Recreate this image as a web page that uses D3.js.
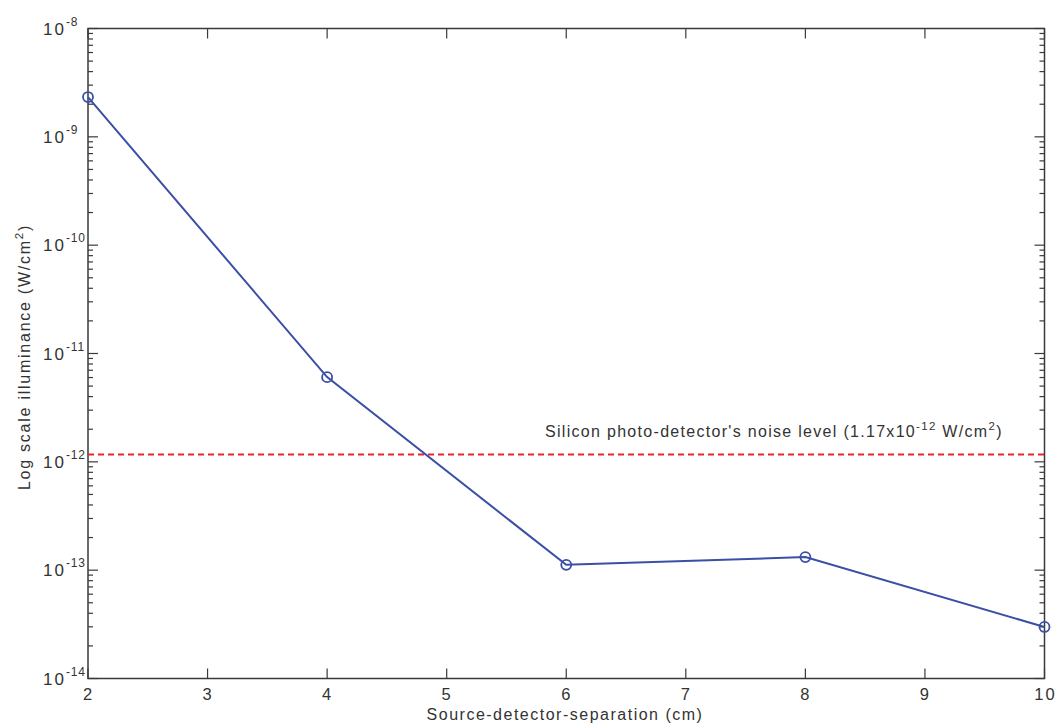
<!DOCTYPE html>
<html>
<head>
<meta charset="utf-8">
<script src="https://cdn.jsdelivr.net/npm/d3@7"></script>
<style>
  html, body { margin: 0; padding: 0; background: #fff; }
  svg { display: block; }
  text { font-family: "Liberation Sans", Arial, Helvetica, sans-serif; fill: #333; }
</style>
</head>
<body>
<script>
// ---- data ----
const separations = [2, 4, 6, 8, 10];                       // cm
const illuminance = [2.33e-9, 6.05e-12, 1.12e-13, 1.32e-13, 2.99e-14]; // W/cm^2
const noiseLevel = 1.17e-12;
const xTicks = [2, 3, 4, 5, 6, 7, 8, 9, 10];
const yDecades = [-14, -13, -12, -11, -10, -9, -8];
const xLabel = "Source-detector-separation (cm)";
const yLabel = "Log scale illuminance (W/cm";
const noiseLabelA = "Silicon photo-detector's noise level (1.17x10";
const noiseLabelB = " W/cm";

// ---- layout ----
const W = 1056, H = 726;
const L = 88, R = 1044.5, T = 28.5, B = 678.5;
const axisColor = "#3a3a3a";
const lineColor = "#3a4fa6";
const redColor = "#e8262a";

const svg = d3.select("body").append("svg").attr("width", W).attr("height", H);

const x = d3.scaleLinear().domain([2, 10]).range([L, R]);
const y = d3.scaleLog().domain([1e-14, 1e-8]).range([B, T]);

// minor tick values
const minors = [];
for (let d = -14; d < -8; d++) for (let m = 2; m <= 9; m++) minors.push(m * Math.pow(10, d));
const majors = yDecades.map(d => Math.pow(10, d));

// box
svg.append("rect").attr("x", L).attr("y", T).attr("width", R - L).attr("height", B - T)
  .attr("fill", "none").attr("stroke", axisColor).attr("stroke-width", 1.5);

const g = svg.append("g").attr("stroke", axisColor).attr("stroke-width", 1.2);
xTicks.forEach(v => {
  g.append("line").attr("x1", x(v)).attr("x2", x(v)).attr("y1", B).attr("y2", B - 10);
  g.append("line").attr("x1", x(v)).attr("x2", x(v)).attr("y1", T).attr("y2", T + 10);
});
majors.forEach(v => {
  g.append("line").attr("x1", L).attr("x2", L + 10).attr("y1", y(v)).attr("y2", y(v));
  g.append("line").attr("x1", R).attr("x2", R - 10).attr("y1", y(v)).attr("y2", y(v));
});
minors.forEach(v => {
  g.append("line").attr("x1", L).attr("x2", L + 5).attr("y1", y(v)).attr("y2", y(v));
  g.append("line").attr("x1", R).attr("x2", R - 5).attr("y1", y(v)).attr("y2", y(v));
});

// x tick labels
svg.append("g").selectAll("text").data(xTicks).join("text")
  .attr("x", d => x(d) + (d >= 10 ? 1 : 0.5)).attr("y", B + 21)
  .attr("text-anchor", "middle").attr("font-size", 16.5)
  .attr("letter-spacing", 2)
  .text(d => d);

// y tick labels
yDecades.forEach(d => {
  const t = svg.append("text").attr("y", y(Math.pow(10, d)) + 6)
    .attr("text-anchor", "start").attr("font-size", 17);
  const ten = t.append("tspan").attr("letter-spacing", 2).text("10");
  t.append("tspan").attr("dy", -9).attr("font-size", 12).attr("letter-spacing", 0.8).text(String(d));
  const tenW = ten.node().getComputedTextLength();
  t.attr("x", 64 - tenW + 2);
});

// axis labels
svg.append("text").attr("x", 565).attr("y", 720)
  .attr("text-anchor", "middle").attr("font-size", 16).attr("letter-spacing", 1.5).text(xLabel);

const yl = svg.append("text")
  .attr("transform", `translate(29.5, 357) rotate(-90)`)
  .attr("text-anchor", "middle").attr("font-size", 16).attr("letter-spacing", 1.75);
yl.append("tspan").text(yLabel);
yl.append("tspan").attr("dy", -7).attr("font-size", 11.5).text("2");
yl.append("tspan").attr("dy", 7).text(")");

// noise level line
svg.append("line").attr("x1", L).attr("x2", R)
  .attr("y1", y(noiseLevel)).attr("y2", y(noiseLevel))
  .attr("stroke", redColor).attr("stroke-width", 2).attr("stroke-dasharray", "6,4");

const nl = svg.append("text").attr("x", 545).attr("y", 437).attr("font-size", 16).attr("letter-spacing", 1.3);
nl.append("tspan").text(noiseLabelA);
nl.append("tspan").attr("dy", -7).attr("font-size", 11.5).text("-12");
nl.append("tspan").attr("dy", 7).text(noiseLabelB);
nl.append("tspan").attr("dy", -7).attr("font-size", 11.5).text("2");
nl.append("tspan").attr("dy", 7).text(")");

// data line
const pts = separations.map((s, i) => [s, illuminance[i]]);
svg.append("path").datum(pts)
  .attr("fill", "none").attr("stroke", lineColor).attr("stroke-width", 2)
  .attr("d", d3.line().x(d => x(d[0])).y(d => y(d[1])));
svg.append("g").selectAll("circle").data(pts).join("circle")
  .attr("cx", d => x(d[0])).attr("cy", d => y(d[1])).attr("r", 5)
  .attr("fill", "none").attr("stroke", lineColor).attr("stroke-width", 1.8);
</script>
</body>
</html>
